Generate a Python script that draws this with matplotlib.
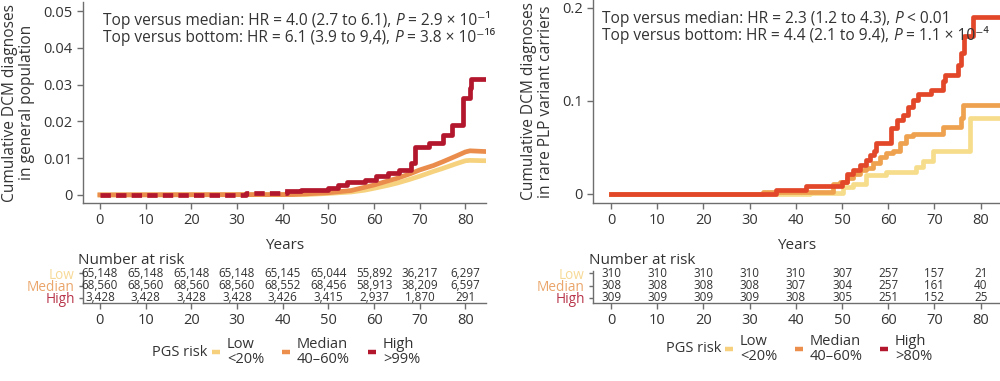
import matplotlib.pyplot as plt
from matplotlib.lines import Line2D

plt.rcParams['font.family'] = ['Open Sans', 'DejaVu Sans']

# ---------------------------
# Dados
# ---------------------------

# painel esquerdo: populacao geral
gp_low_t = [0, 45, 50, 55, 58, 60, 63, 65, 68, 70, 73, 75, 78, 80, 81, 84.5]
gp_low_y = [0, 0.0001, 0.0004, 0.0008, 0.0013, 0.0018, 0.0026, 0.0032, 0.0043, 0.0051, 0.0064, 0.0072, 0.0085, 0.0093, 0.0094, 0.0093]
gp_med_t = [0, 42, 50, 55, 58, 60, 63, 65, 68, 70, 73, 75, 78, 80, 81, 84.5]
gp_med_y = [0, 0.0001, 0.0006, 0.0012, 0.0021, 0.0027, 0.0038, 0.0045, 0.0058, 0.0068, 0.0080, 0.0090, 0.0106, 0.0117, 0.0120, 0.0118]
gp_high_t = [0, 32, 37, 41, 44, 50, 52, 54, 58, 60.5, 63, 65.5, 68, 69, 72, 75, 77, 79.4, 81, 81.2, 84.5]
gp_high_y = [0, 0.00045, 0.0006, 0.0011, 0.0014, 0.0018, 0.0027, 0.0034, 0.0041, 0.0052, 0.0061, 0.0068, 0.0086, 0.0131, 0.0142, 0.0163, 0.0190, 0.0263, 0.0292, 0.0315, 0.0315]

# painel direito: portadores de variantes PLP raras
plp_low_t = [0, 43, 50.2, 52.4, 55.3, 59.6, 66.1, 67.5, 69.7, 77.6, 84.2]
plp_low_y = [0, 0.0015, 0.008, 0.011, 0.020, 0.024, 0.029, 0.035, 0.046, 0.082, 0.082]
plp_med_t = [0, 32.9, 48, 49.5, 51, 52.4, 53.8, 55.3, 56.7, 58.2, 59.6, 61, 62.5, 63.9, 65.4, 71.9, 75.8, 76.2, 84.2]
plp_med_y = [0, 0.0025, 0.011, 0.013, 0.017, 0.022, 0.026, 0.028, 0.033, 0.040, 0.044, 0.046, 0.055, 0.062, 0.065, 0.072, 0.082, 0.096, 0.096]
plp_high_t = [0, 35.8, 42.3, 50, 51, 52.4, 53.8, 55.3, 56, 57, 57.4, 60.7, 61.8, 63.2, 64.3, 65.4, 66.4, 69.3, 71.9, 72.2, 75.1, 75.8, 76.5, 78.4, 84.2]
plp_high_y = [0, 0.004, 0.009, 0.013, 0.022, 0.026, 0.031, 0.037, 0.042, 0.046, 0.055, 0.071, 0.080, 0.085, 0.094, 0.101, 0.107, 0.112, 0.121, 0.128, 0.139, 0.152, 0.170, 0.190, 0.190]

anos = [0, 10, 20, 30, 40, 50, 60, 70, 80]
risco_gp = {
    'Low': ['65,148', '65,148', '65,148', '65,148', '65,145', '65,044', '55,892', '36,217', '6,297'],
    'Median': ['68,560', '68,560', '68,560', '68,560', '68,552', '68,456', '58,913', '38,209', '6,597'],
    'High': ['3,428', '3,428', '3,428', '3,428', '3,426', '3,415', '2,937', '1,870', '291'],
}
risco_plp = {
    'Low': ['310', '310', '310', '310', '310', '307', '257', '157', '21'],
    'Median': ['308', '308', '308', '308', '307', '304', '257', '161', '40'],
    'High': ['309', '309', '309', '309', '308', '305', '251', '152', '25'],
}

grupos = ['Low', 'Median', 'High']
legenda_gp = ['Low\n<20%', 'Median\n40–60%', 'High\n>99%']
legenda_plp = ['Low\n<20%', 'Median\n40–60%', 'High\n>80%']

# cada linha: (antes do P, valor de P)
texto_gp = [('Top versus median: HR = 4.0 (2.7 to 6.1), ', ' = 2.9 × 10⁻¹'),
            ('Top versus bottom: HR = 6.1 (3.9 to 9,4), ', ' = 3.8 × 10⁻¹⁶')]
texto_plp = [('Top versus median: HR = 2.3 (1.2 to 4.3), ', ' < 0.01'),
             ('Top versus bottom: HR = 4.4 (2.1 to 9.4), ', ' = 1.1 × 10⁻⁴')]

# ---------------------------
# Estilo
# ---------------------------

CINZA = '#6e6e6e'
TEXTO = '#333333'
cores_gp = {'Low': '#f6d27e', 'Median': '#ea8d4c', 'High': '#b3172e'}
cores_plp = {'Low': '#f6dd8c', 'Median': '#eea24f', 'High': '#e2472a'}
cores_leg = {'Low': '#f6d07c', 'Median': '#ec8f4c', 'High': '#b3172e'}
cores_rot = {'Low': '#f7d996', 'Median': '#eaa56a', 'High': '#b8354a'}

W, H = 1000, 381


def ax_px(fig, x0, y0, x1, y1):
    """Cria eixos a partir de coordenadas em pixels (origem no topo)."""
    return fig.add_axes([x0 / W, 1 - y1 / H, (x1 - x0) / W, (y1 - y0) / H])


def estilo(ax):
    for s in ['top', 'right']:
        ax.spines[s].set_visible(False)
    for s in ['left', 'bottom']:
        ax.spines[s].set_color(CINZA)
        ax.spines[s].set_linewidth(1.0)
    ax.tick_params(colors=CINZA, labelcolor=TEXTO, labelsize=10.5, length=4, width=1.0)


def linha_hr(fig, ax, x, y, partes):
    """Escreve uma linha de HR com o P em italico, encadeando os trechos."""
    t1 = ax.text(x, y, partes[0], transform=ax.transAxes, fontsize=11.2, color=TEXTO, va='center')
    fig.canvas.draw()
    bb = t1.get_window_extent()
    inv = ax.transAxes.inverted()
    x2 = inv.transform((bb.x1, bb.y0))[0]
    t2 = ax.text(x2, y, 'P', transform=ax.transAxes, fontsize=11.2, color=TEXTO, va='center', style='italic')
    bb2 = t2.get_window_extent()
    x3 = inv.transform((bb2.x1, bb2.y0))[0]
    ax.text(x3, y, partes[1], transform=ax.transAxes, fontsize=11.2, color=TEXTO, va='center')


def painel_curvas(fig, ax, curvas, cores, xlim, ylim, yticks, ylabels, ylabel, textos, x_texto, tracejado, suave):
    estilo(ax)
    for nome, t, y in curvas:
        if tracejado and nome == 'High':
            # trecho inicial aparece tracejado na figura original
            n0 = [i for i, v in enumerate(t) if v <= 40]
            k = n0[-1] + 1
            ax.step(t[:k + 1], y[:k + 1], where='post', color=cores[nome], lw=3.4,
                    dashes=(2.2, 1.1), solid_capstyle='butt', zorder=4)
            ax.step(t[k:], y[k:], where='post', color=cores[nome], lw=3.4, zorder=4)
        elif suave:
            ax.plot(t, y, color=cores[nome], lw=3.4, zorder=3)
        else:
            ax.step(t, y, where='post', color=cores[nome], lw=3.4, zorder=3)
    ax.set_xlim(*xlim)
    ax.set_ylim(*ylim)
    ax.set_xticks(anos)
    ax.set_yticks(yticks)
    ax.set_yticklabels(ylabels)
    ax.set_ylabel(ylabel, fontsize=11.2, color=TEXTO, linespacing=1.05, labelpad=6)
    ax.set_xlabel('Years', fontsize=11, color=TEXTO, labelpad=7)
    # linhas de texto posicionadas em pixels a partir do topo do eixo
    h = ax.get_position().height * H
    linha_hr(fig, ax, x_texto, 1 - 19 / h, textos[0])
    linha_hr(fig, ax, x_texto, 1 - 36 / h, textos[1])


def painel_risco(ax, tabela, xlim, x_titulo):
    estilo(ax)
    ax.set_xlim(*xlim)
    ax.set_ylim(-0.42, 2.2)
    ax.set_xticks(anos)
    ax.set_yticks([2, 1, 0])
    ax.set_yticklabels(grupos, fontsize=9.8)
    ax.tick_params(axis='y', length=3, pad=3)
    for lab, g in zip(ax.get_yticklabels(), grupos):
        lab.set_color(cores_rot[g])
    for j, g in enumerate(grupos):
        for x, v in zip(anos, tabela[g]):
            ax.text(x, 2 - j, v, ha='center', va='center', fontsize=8.4, color=TEXTO)
    ax.text(x_titulo, 1.32, 'Number at risk', transform=ax.transAxes, fontsize=11,
            color=TEXTO, ha='left', va='center')


def legenda(fig, x_titulo, x_itens, y, rotulos):
    fig.text(x_titulo / W, 1 - y / H, 'PGS risk', fontsize=10.5, color=TEXTO, va='center')
    for xi, g, r in zip(x_itens, grupos, rotulos):
        fig.add_artist(Line2D([(xi - 4) / W, (xi + 4) / W], [1 - y / H] * 2,
                              color=cores_leg[g], lw=3.2, solid_capstyle='butt'))
        fig.text((xi + 11) / W, 1 - y / H, r, fontsize=10.5, color=TEXTO, va='center', linespacing=1.0)


# ---------------------------
# Figura
# ---------------------------

fig = plt.figure(figsize=(10, 3.81), dpi=100)

ax1 = ax_px(fig, 83, 2, 486, 203)
painel_curvas(fig, ax1,
              [('Low', gp_low_t, gp_low_y), ('Median', gp_med_t, gp_med_y), ('High', gp_high_t, gp_high_y)],
              cores_gp, (-3.7, 84.5), (-0.0022, 0.0525),
              [0, 0.01, 0.02, 0.03, 0.04, 0.05], ['0', '0.01', '0.02', '0.03', '0.04', '0.05'],
              'Cumulative DCM diagnoses\nin general population', texto_gp, 0.05, True, True)

ax2 = ax_px(fig, 593, 0, 1000, 203)
painel_curvas(fig, ax2,
              [('Low', plp_low_t, plp_low_y), ('Median', plp_med_t, plp_med_y), ('High', plp_high_t, plp_high_y)],
              cores_plp, (-3.9, 84.2), (-0.0097, 0.2086),
              [0, 0.1, 0.2], ['0', '0.1', '0.2'],
              'Cumulative DCM diagnoses\nin rare PLP variant carriers', texto_plp, 0.022, False, False)

ax3 = ax_px(fig, 83, 271, 486, 303)
painel_risco(ax3, risco_gp, (-3.7, 84.5), -0.012)

ax4 = ax_px(fig, 593, 271, 1000, 303)
painel_risco(ax4, risco_plp, (-3.9, 84.2), -0.01)

legenda(fig, 152, [216, 286, 372], 352, legenda_gp)
legenda(fig, 666, [729, 799, 884], 349, legenda_plp)

fig.savefig('out.png', dpi=100)
